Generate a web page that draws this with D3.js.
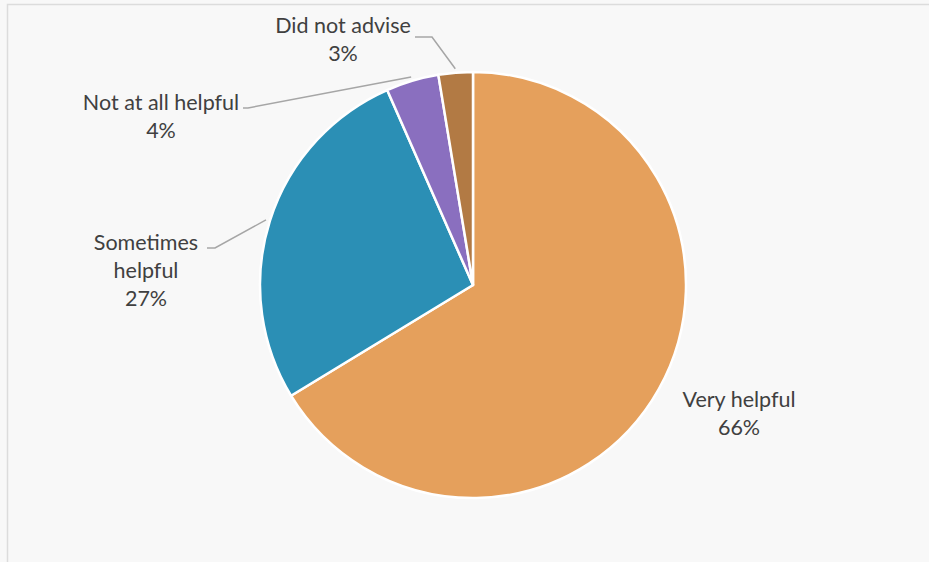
<!DOCTYPE html>
<html><head><meta charset="utf-8">
<script src="https://cdn.jsdelivr.net/npm/d3@7"></script>
<style>html,body{margin:0;padding:0;background:#f8f8f8;}</style>
</head><body>
<svg id="c" width="929" height="562"></svg>
<script>
const categories = ["Very helpful", "Sometimes helpful", "Not at all helpful", "Did not advise"];
const values = [66.3, 27.1, 4.0, 2.6];
const percentLabels = ["66%", "27%", "4%", "3%"];
const colors = ["#e5a05c", "#2b8fb5", "#8a6fbf", "#b27a44"];

const svg = d3.select("#c");
svg.append("rect").attr("x",0).attr("y",0).attr("width",929).attr("height",562).attr("fill","#f8f8f8");
svg.append("rect").attr("x",7.5).attr("y",4.5).attr("width",940).attr("height",580)
  .attr("fill","none").attr("stroke","#dcdcdc").attr("stroke-width",1.5);

const cx = 473, cy = 285, r = 213;
const g = svg.append("g").attr("transform",`translate(${cx},${cy})`);
const pie = d3.pie().sort(null).value(d=>d);
const arcs = pie(values);
const arc = d3.arc().innerRadius(0).outerRadius(r);
g.selectAll("path").data(arcs).join("path")
  .attr("d", arc).attr("fill",(d,i)=>colors[i])
  .attr("stroke","#ffffff").attr("stroke-width",2.5).attr("stroke-linejoin","round");

// label layout (text anchor centers, lines, elbows)
const labelLayout = [
  {lines:["Very helpful"], x:739, y:407, elbow:null},
  {lines:["Sometimes","helpful"], x:146, y:250, elbow:[[215,248],[207,248]]},
  {lines:["Not at all helpful"], x:161, y:110, elbow:[[248,108],[243,108]]},
  {lines:["Did not advise"], x:343, y:33, elbow:[[432,37],[415,37]]}
];
const lineH = 28;
labelLayout.forEach((L,i)=>{
  const t = svg.append("text").attr("x",L.x).attr("y",L.y)
    .attr("text-anchor","middle").attr("fill","#404040")
    .style("font-family","Lato, 'Noto Sans', sans-serif").style("font-size","21.5px");
  L.lines.concat([percentLabels[i]]).forEach((s,k)=>{
    t.append("tspan").attr("x",L.x).attr("y",L.y + k*lineH).text(s);
  });
  if (L.elbow) {
    const a = (arcs[i].startAngle + arcs[i].endAngle)/2;
    const p0 = [cx + Math.sin(a)*(r+4), cy - Math.cos(a)*(r+4)];
    svg.append("path")
      .attr("d", d3.line()([p0, L.elbow[0], L.elbow[1]]))
      .attr("fill","none").attr("stroke","#a6a6a6").attr("stroke-width",1.5);
  }
});
</script>
</body></html>
